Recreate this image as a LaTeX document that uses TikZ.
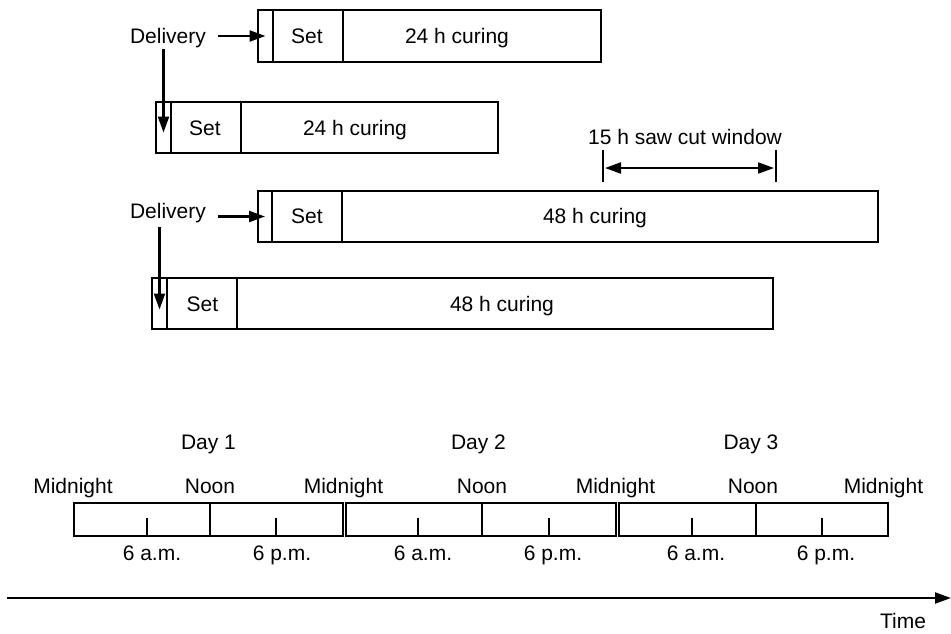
\documentclass[tikz,border=0pt]{standalone}
\usepackage{fontspec}
\setmainfont{Liberation Sans}
\usetikzlibrary{arrows.meta,calc}
\begin{document}
\begin{tikzpicture}[x=1pt,y=-1pt,
  lw/.style={line width=2.2pt},
  cell/.style={draw,lw,inner sep=0pt,minimum height=52pt},
  tcell/.style={draw,lw,inner sep=0pt,minimum height=33pt},
  lbl/.style={inner sep=0pt,anchor=base,font=\fontsize{21}{24}\selectfont},
  tip/.tip={Triangle[length=16pt,width=11pt]},
  arr/.style={lw,-tip},
  darr/.style={lw,tip-tip}
]
\useasboundingbox (0,0) rectangle (951,633);
% Bar 1
\node[cell,minimum width=15pt] (d1) at (265.5,36) {};
\node[cell,minimum width=70pt] (s1) at (308,36) {};
\node[cell,minimum width=258pt] (c1) at (472,36) {};
\node[lbl] (s1t) at (307,43) {Set};
\node[lbl] (c1t) at (457,43) {24 h curing};
% Bar 2
\node[cell,minimum width=15pt,minimum height=51pt] (d2) at (163.5,127.5) {};
\node[cell,minimum width=70pt,minimum height=51pt] (s2) at (206,127.5) {};
\node[cell,minimum width=257pt,minimum height=51pt] (c2) at (369.5,127.5) {};
\node[lbl] (s2t) at (205,135) {Set};
\node[lbl] (c2t) at (355,135) {24 h curing};
% Bar 3
\node[cell,minimum width=14pt,minimum height=51pt] (d3) at (265,216.5) {};
\node[cell,minimum width=70pt,minimum height=51pt] (s3) at (307,216.5) {};
\node[cell,minimum width=536pt,minimum height=51pt] (c3) at (610,216.5) {};
\node[lbl] (s3t) at (307,223) {Set};
\node[lbl] (c3t) at (595,223) {48 h curing};
% Bar 4
\node[cell,minimum width=15pt,minimum height=51pt] (d4) at (159.5,303.5) {};
\node[cell,minimum width=70pt,minimum height=51pt] (s4) at (202,303.5) {};
\node[cell,minimum width=536pt,minimum height=51pt] (c4) at (505,303.5) {};
\node[lbl] (s4t) at (202.5,311) {Set};
\node[lbl] (c4t) at (502,311) {48 h curing};
% Deliveries
\node[lbl] (del1) at (168,43) {Delivery};
\node[lbl] (del2) at (168,218) {Delivery};
\draw[arr] ([xshift=12pt]del1.east |- d1.center) -- (d1.center);
\draw[arr] ([xshift=12pt]del2.east |- d3.center) -- (d3.center);
\draw[arr] ([yshift=-6pt]del1.base -| d2.center) -- ($(d2.center)+(0,5)$);
\draw[arr] ([yshift=-9pt]del2.base -| d4.center) -- ($(d4.center)+(0,6)$);
% Saw cut window
\coordinate (w1a) at (603,150); \coordinate (w1b) at (603,182);
\coordinate (w2a) at (776,150); \coordinate (w2b) at (776,182);
\draw[lw] (w1a) -- (w1b);
\draw[lw] (w2a) -- (w2b);
\draw[darr] ($(w1a)+(2,18)$) -- ($(w2a)+(-2,18)$);
\node[lbl] (saw) at (685,144) {15 h saw cut window};
% Timeline boxes
\node[tcell,minimum width=136pt] (a1) at (142,519.5) {};
\node[tcell,minimum width=133pt] (a2) at (276.5,519.5) {};
\node[tcell,minimum width=136pt] (b1) at (414,519.5) {};
\node[tcell,minimum width=134pt] (b2) at (549,519.5) {};
\node[tcell,minimum width=137pt] (cc1) at (687.5,519.5) {};
\node[tcell,minimum width=132pt] (cc2) at (822,519.5) {};
\foreach \x in {147,276,418,549,692,822}{
  \draw[lw] (\x,518) -- (\x,536);
}
\foreach \x/\t in {152/6 a.m.,282/6 p.m.,423/6 a.m.,553/6 p.m.,696/6 a.m.,826/6 p.m.}{
  \node[lbl] at (\x,560) {\t};
}
\node[lbl] (m1) at (73,493) {Midnight};
\node[lbl] (n1) at (210,493) {Noon};
\node[lbl] (m2) at (343.5,493) {Midnight};
\node[lbl] (n2) at (482,493) {Noon};
\node[lbl] (m3) at (615.5,493) {Midnight};
\node[lbl] (n3) at (753,493) {Noon};
\node[lbl] (m4) at (883.5,493) {Midnight};
\node[lbl] (day1) at (208.5,449) {Day 1};
\node[lbl] (day2) at (478.5,449) {Day 2};
\node[lbl] (day3) at (751,449) {Day 3};
% Time axis
\coordinate (t0) at (7,598);
\coordinate (t1) at (951,598);
\draw[arr] (t0) -- (t1);
\node[lbl] (time) at (903,628) {Time};
\end{tikzpicture}
\end{document}
